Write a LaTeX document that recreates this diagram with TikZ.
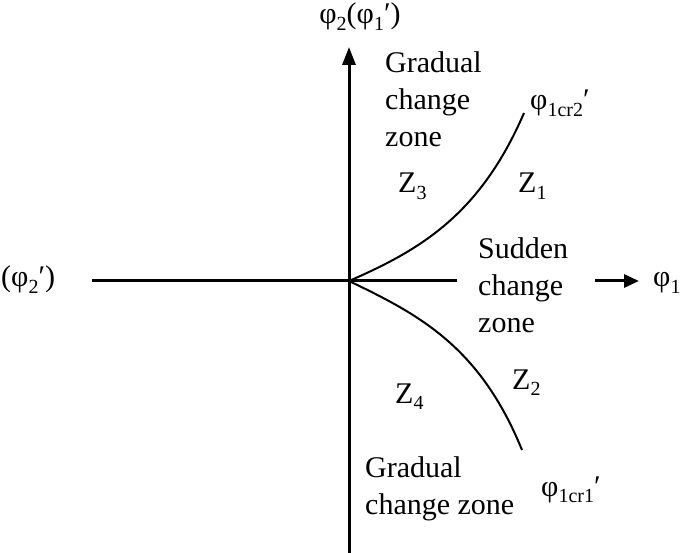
\documentclass[tikz,border=0pt]{standalone}
\usepackage{fontspec}
\setmainfont{Liberation Serif}
\usetikzlibrary{arrows.meta}
\newcommand\sbs[1]{\raisebox{-0.22em}{\fontsize{20}{20}\selectfont #1}}
\begin{document}
\begin{tikzpicture}[x=1pt,y=-1pt,
  lbl/.style={font=\fontsize{30}{37}\selectfont, inner sep=0pt},
  zone/.style={lbl, align=left, anchor=north west},
  ax/.style={line width=3pt},
  crv/.style={line width=2pt}]
\useasboundingbox (0,0) rectangle (685,553);
\coordinate (O) at (349,281);
\coordinate (bot) at (349,553);
\coordinate (top) at (349,47);
\coordinate (hl) at (92,281);
\coordinate (hr) at (457,281);
\coordinate (al) at (595,281);
\coordinate (ar) at (639,281);
\coordinate (c2) at (524,113);
\coordinate (c1) at (522,450);
\draw[ax, -{Triangle[length=18pt,width=13pt]}] (bot) -- (top);
\draw[ax] (hl) -- (hr);
\draw[ax, -{Triangle[length=15pt,width=13pt]}] (al) -- (ar);
\draw[crv] (O) .. controls (420,250) and (480,215) .. (c2);
\draw[crv] (O) .. controls (420,315) and (480,347) .. (c1);
\node[lbl, anchor=base] (yl) at (360,24) {φ\sbs{2}(φ\sbs{1}′)};
\node[lbl, anchor=base west] (xl) at (653,287) {φ\sbs{1}};
\node[lbl, anchor=base west] (xl2) at (1,287) {(φ\sbs{2}′)};
\node[zone] (g1) at (385,51) {Gradual\\change\\zone};
\node[zone] (s1) at (478,237) {Sudden\\change\\zone};
\node[zone] (g2) at (365,456) {Gradual\\change zone};
\node[lbl, anchor=base west] (z3) at (398,193) {Z\sbs{3}};
\node[lbl, anchor=base west] (z1) at (518,193) {Z\sbs{1}};
\node[lbl, anchor=base west] (z4) at (395,403) {Z\sbs{4}};
\node[lbl, anchor=base west] (z2) at (512,389) {Z\sbs{2}};
\node[lbl, anchor=base west] (p2) at (530,110) {φ\sbs{1cr2}′};
\node[lbl, anchor=base west] (p1) at (541,496) {φ\sbs{1cr1}′};
\end{tikzpicture}
\end{document}
